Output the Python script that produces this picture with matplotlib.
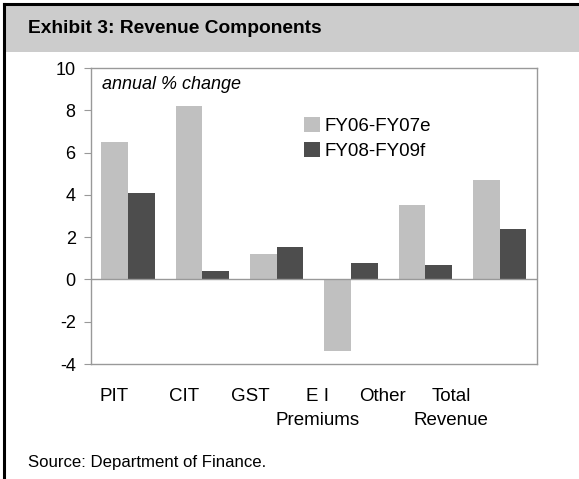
import matplotlib.pyplot as plt
import numpy as np
from matplotlib.patches import Rectangle
from matplotlib.lines import Line2D

# Data read from the exhibit (annual % change)
categories = ['PIT', 'CIT', 'GST', 'E I\nPremiums', 'Other', 'Total\nRevenue']
fy06_07e = [6.5, 8.2, 1.2, -3.4, 3.5, 4.7]
fy08_09f = [4.1, 0.4, 1.55, 0.8, 0.7, 2.4]
series_names = ['FY06-FY07e', 'FY08-FY09f']

plt.rcParams['font.family'] = ['Liberation Sans', 'DejaVu Sans']
plt.rcParams['axes.unicode_minus'] = False

fig = plt.figure(figsize=(5.79, 4.79), dpi=100)

# header band and frame lines
fig.patches.append(Rectangle((0.009, 0.891), 0.991, 0.099, transform=fig.transFigure,
                             facecolor='#cccccc', edgecolor='none', zorder=0))
fig.lines.append(Line2D([0.007, 1.0], [0.9915, 0.9915], transform=fig.transFigure,
                        color='black', lw=2.2))
fig.lines.append(Line2D([0.007, 0.007], [0.0, 0.9915], transform=fig.transFigure,
                        color='black', lw=2.2))
fig.text(0.048, 0.94, 'Exhibit 3: Revenue Components', fontsize=13.8,
         fontweight='bold', va='center', ha='left')
fig.text(0.048, 0.035, 'Source: Department of Finance.', fontsize=12.1,
         va='center', ha='left')

ax = fig.add_axes([0.157, 0.240, 0.770, 0.618])
x = np.arange(len(categories))
w = 0.36
ax.bar(x - w / 2, fy06_07e, width=w, color='#c0c0c0', label=series_names[0], zorder=2)
ax.bar(x + w / 2, fy08_09f, width=w, color='#4d4d4d', label=series_names[1], zorder=2)
ax.axhline(0, color='#999999', lw=1.0, zorder=3)

ax.set_xlim(-0.5, len(categories) - 0.5)
ax.set_ylim(-4, 10)
ax.set_yticks(np.arange(-4, 11, 2))
ax.tick_params(axis='y', direction='out', length=5, color='#999999',
               labelsize=13, pad=6)

# category labels sit a bit left of the bar groups, as in the exhibit
label_x = [-0.19, 0.75, 1.65, 2.55, 3.42, 4.35]
ax.set_xticks(label_x)
ax.set_xticklabels(categories, fontsize=13.5, linespacing=1.55)
ax.tick_params(axis='x', length=0, pad=17)

for s in ax.spines.values():
    s.set_color('#999999')
    s.set_linewidth(1.0)

ax.text(0.025, 0.945, 'annual % change', transform=ax.transAxes, fontsize=13,
        style='italic', va='center', ha='left')

ax.legend(loc='upper left', bbox_to_anchor=(0.479, 0.835), frameon=False,
          fontsize=13.5, handlelength=0.85, handleheight=0.85, handletextpad=0.2,
          labelspacing=0.4, borderpad=0, borderaxespad=0)

fig.savefig('out.png', dpi=100)
